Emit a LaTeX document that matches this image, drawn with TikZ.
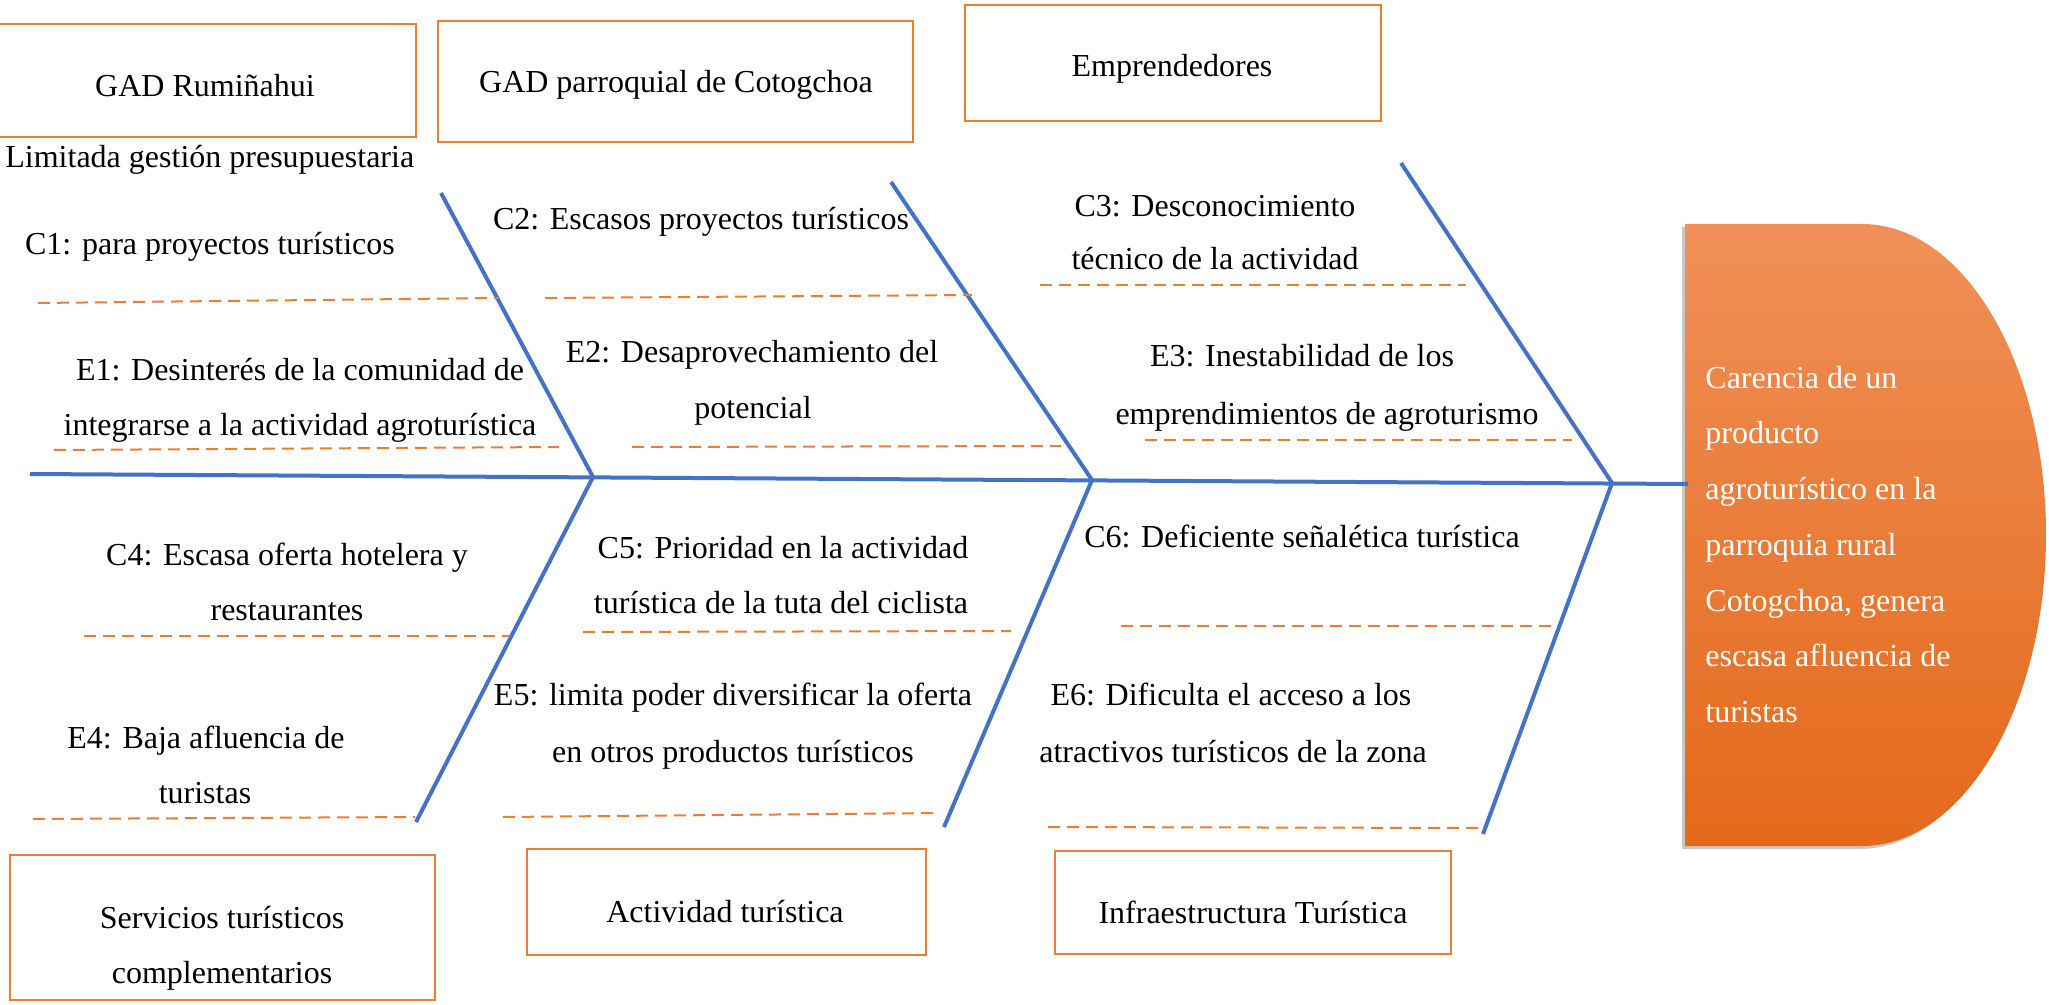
\documentclass[tikz,border=0pt]{standalone}
\usepackage{fontspec}
\setmainfont{Liberation Serif}
\definecolor{boneblue}{HTML}{4472C4}
\definecolor{catorange}{HTML}{ED7D31}
\definecolor{headtop}{HTML}{F09058}
\definecolor{headbot}{HTML}{E4691A}
\begin{document}
\begin{tikzpicture}[x=0.5pt,y=-0.5pt,
  font=\fontsize{16pt}{20pt}\selectfont,
  bone/.style={draw=boneblue, line width=2pt},
  catbox/.style={draw=catorange, line width=1.4pt, inner sep=0pt},
  guide/.style={draw=catorange, line width=1pt, dash pattern=on 6pt off 3.5pt},
  lbl/.style={anchor=base, inner sep=0pt},
  headtxt/.style={anchor=base west, inner sep=0pt, text=white}]
\useasboundingbox (0,0) rectangle (2049,1005);
\clip (0,0) rectangle (2049,1005);

% head
\path[fill=black, opacity=0.22, shift={(-3,3)}]
  (1685,224) -- (1862,224) .. controls (1963.6,224) and (2046,363.2) .. (2046,535)
  .. controls (2046,706.8) and (1963.6,846) .. (1862,846) -- (1685,846) -- cycle;
\path[top color=headtop, bottom color=headbot]
  (1685,224) -- (1862,224) .. controls (1963.6,224) and (2046,363.2) .. (2046,535)
  .. controls (2046,706.8) and (1963.6,846) .. (1862,846) -- (1685,846) -- cycle;
\coordinate (head) at (1688,484);
\node[headtxt] (h1) at (1705,388) {Carencia de un};
\node[headtxt] (h2) at (1705,444) {producto};
\node[headtxt] (h3) at (1705,499) {agroturístico en la};
\node[headtxt] (h4) at (1705,555) {parroquia rural};
\node[headtxt] (h5) at (1705,611) {Cotogchoa, genera};
\node[headtxt] (h6) at (1705,666) {escasa afluencia de};
\node[headtxt] (h7) at (1705,722) {turistas};

% spine and bones
\coordinate (tail) at (30,474);
\coordinate (j1) at (593,477);
\coordinate (j2) at (1092,480);
\coordinate (j3) at (1612,483);
\coordinate (u1) at (441,193);
\coordinate (u2) at (891,182);
\coordinate (u3) at (1401,163);
\coordinate (d1) at (416,822);
\coordinate (d2) at (944,827);
\coordinate (d3) at (1483,834);
\draw[bone] (tail) -- (head);
\draw[bone] (u1) -- (j1) -- (d1);
\draw[bone] (u2) -- (j2) -- (d2);
\draw[bone] (u3) -- (j3) -- (d3);

% guide lines
\draw[guide] (38,303) -- (498,298);
\draw[guide] (545,298) -- (972,295);
\draw[guide] (1040,285) -- (1466,285);
\draw[guide] (54,450) -- (559,447);
\draw[guide] (632,447) -- (1061,446);
\draw[guide] (1145,440) -- (1572,440);
\draw[guide] (84,636) -- (510,636);
\draw[guide] (583,632) -- (1011,631);
\draw[guide] (1121,626) -- (1551,626);
\draw[guide] (33,819) -- (415,817);
\draw[guide] (503,817) -- (940,813);
\draw[guide] (1048,827) -- (1481,828);

% category boxes
\node[catbox, minimum width=209.5pt, minimum height=56.5pt] (gadR) at (206.5,80.5) {};
\node[lbl] (gadRt) at (205,97) {GAD Rumiñahui};
\node[catbox, minimum width=237.5pt, minimum height=60.5pt] (gadP) at (675.5,81.5) {};
\node[lbl] (gadPt) at (676,93) {GAD parroquial de Cotogchoa};
\node[catbox, minimum width=208pt, minimum height=58pt] (empr) at (1173,63) {};
\node[lbl] (emprt) at (1172,77) {Emprendedores};
\node[catbox, minimum width=212.5pt, minimum height=72.5pt] (serv) at (222.5,927.5) {};
\node[lbl] (servt1) at (222,928) {Servicios turísticos};
\node[lbl] (servt2) at (222,983) {complementarios};
\node[catbox, minimum width=199.5pt, minimum height=53pt] (activ) at (726.5,902) {};
\node[lbl] (activt) at (725,922) {Actividad turística};
\node[catbox, minimum width=198pt, minimum height=51.5pt] (infra) at (1253,902.5) {};
\node[lbl] (infrat) at (1253,923) {Infraestructura Turística};

% cause and effect labels
\node[anchor=base west, inner sep=0pt] (lim) at (5,168) {Limitada gestión presupuestaria};
\node[lbl] (c1) at (210,255) {C1: para proyectos turísticos};
\node[lbl] (c2) at (701,230) {C2: Escasos proyectos turísticos};
\node[lbl] (c3a) at (1215,217) {C3: Desconocimiento};
\node[lbl] (c3b) at (1215,270) {técnico de la actividad};
\node[lbl] (e1a) at (300,380) {E1: Desinterés de la comunidad de};
\node[lbl] (e1b) at (300,435) {integrarse a la actividad agroturística};
\node[lbl] (e2a) at (752,363) {E2: Desaprovechamiento del};
\node[lbl] (e2b) at (753,418) {potencial};
\node[lbl] (e3a) at (1302,366) {E3: Inestabilidad de los};
\node[lbl] (e3b) at (1327,424) {emprendimientos de agroturismo};
\node[lbl] (c4a) at (287,565) {C4: Escasa oferta hotelera y};
\node[lbl] (c4b) at (287,620) {restaurantes};
\node[lbl] (c5a) at (783,558) {C5: Prioridad en la actividad};
\node[lbl] (c5b) at (781,613) {turística de la tuta del ciclista};
\node[lbl] (c6) at (1302,547) {C6: Deficiente señalética turística};
\node[lbl] (e4a) at (206,748) {E4: Baja afluencia de};
\node[lbl] (e4b) at (205,803) {turistas};
\node[lbl] (e5a) at (733,705) {E5: limita poder diversificar la oferta};
\node[lbl] (e5b) at (733,762) {en otros productos turísticos};
\node[lbl] (e6a) at (1231,705) {E6: Dificulta el acceso a los};
\node[lbl] (e6b) at (1233,762) {atractivos turísticos de la zona};
\end{tikzpicture}
\end{document}
